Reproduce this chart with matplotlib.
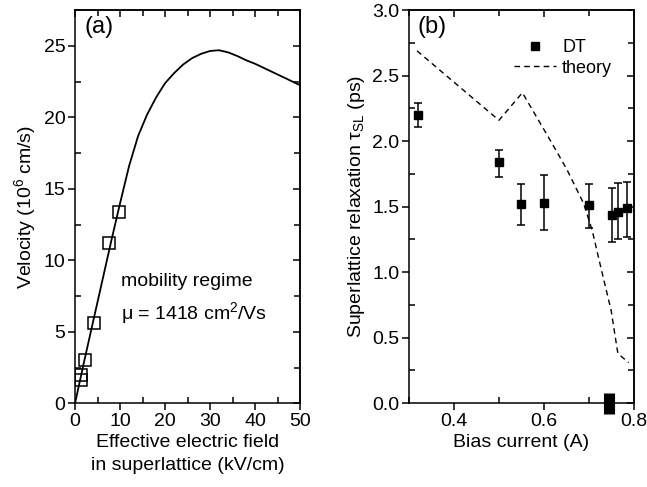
import matplotlib
matplotlib.use("Agg")
import matplotlib.pyplot as plt
from matplotlib.lines import Line2D
from matplotlib.ticker import MultipleLocator

plt.rcParams.update({"font.family": ["Liberation Sans", "DejaVu Sans"],
                     "mathtext.fontset": "custom", "mathtext.rm": "Liberation Sans",
                     "mathtext.it": "Liberation Sans:italic",
                     "axes.linewidth": 1.1})

# (a) velocity-field curve and measured points
field_curve = [0, 2, 4, 6, 8, 10, 12, 14, 16, 18, 20, 22, 24, 26, 28, 30, 32,
               34, 36, 38, 40, 42, 44, 46, 48, 50]
vel_curve = [0, 2.9, 5.7, 8.5, 11.3, 14.0, 16.6, 18.7, 20.2, 21.4, 22.4, 23.1,
             23.7, 24.15, 24.45, 24.65, 24.7, 24.55, 24.3, 24.0, 23.75, 23.45,
             23.15, 22.85, 22.55, 22.25]
field_pts = [1.3, 1.4, 2.1, 4.2, 7.6, 9.7]
vel_pts = [1.6, 2.0, 3.0, 5.6, 11.2, 13.4]

# (b) relaxation time vs bias current
bias_dt = [0.32, 0.50, 0.55, 0.60, 0.70, 0.75, 0.765, 0.785]
tau_dt = [2.20, 1.84, 1.52, 1.53, 1.51, 1.44, 1.46, 1.49]
tau_lo = [2.11, 1.73, 1.36, 1.32, 1.34, 1.23, 1.25, 1.27]
tau_hi = [2.29, 1.93, 1.67, 1.74, 1.67, 1.64, 1.68, 1.69]
bias_zero = [0.745]
tau_zero = [0.0]
bias_th = [0.318, 0.50, 0.552, 0.61, 0.65, 0.688, 0.707, 0.726, 0.749, 0.764, 0.788]
tau_th = [2.69, 2.16, 2.37, 2.03, 1.79, 1.525, 1.32, 1.04, 0.71, 0.38, 0.31]

FS = 14


def style(ax, xmaj, xmin, ymaj, ymin):
    ax.xaxis.set_major_locator(MultipleLocator(xmaj))
    ax.xaxis.set_minor_locator(MultipleLocator(xmin))
    ax.yaxis.set_major_locator(MultipleLocator(ymaj))
    ax.yaxis.set_minor_locator(MultipleLocator(ymin))
    ax.tick_params(which="major", direction="out", length=5, width=1.1,
                   labelsize=FS, pad=2)
    ax.tick_params(which="minor", direction="in", length=4, width=1.1)
    # top and right: all ticks point inward, no labels
    top = ax.secondary_xaxis("top")
    top.xaxis.set_major_locator(MultipleLocator(xmaj))
    top.xaxis.set_minor_locator(MultipleLocator(xmin))
    right = ax.secondary_yaxis("right")
    right.yaxis.set_major_locator(MultipleLocator(ymaj))
    right.yaxis.set_minor_locator(MultipleLocator(ymin))
    for sec in (top, right):
        sec.tick_params(which="major", direction="in", length=5, width=1.1,
                        labelleft=False, labelright=False, labeltop=False,
                        labelbottom=False)
        sec.tick_params(which="minor", direction="in", length=4, width=1.1)


fig = plt.figure(figsize=(6.47, 4.87), dpi=100)
ax1 = fig.add_axes([0.116, 0.172, 0.348, 0.807])
ax2 = fig.add_axes([0.632, 0.172, 0.348, 0.807])

ax1.plot(field_curve, vel_curve, color="black", lw=1.3)
ax1.plot(field_pts, vel_pts, ls="none", marker="s", ms=8, mfc="none",
         mec="black", mew=1.1)
ax1.set_xlim(0, 50)
ax1.set_ylim(0, 27.5)
style(ax1, 10, 5, 5, 2.5)
ax1.set_ylabel("Velocity (10$^6$ cm/s)", fontsize=FS, labelpad=4)
ax1.set_xlabel("Effective electric field\nin superlattice (kV/cm)", fontsize=FS,
               labelpad=3, linespacing=1.45)
ax1.text(0.04, 0.985, "(a)", transform=ax1.transAxes, fontsize=17, va="top")
ax1.text(10.3, 8.5, "mobility regime", fontsize=FS, va="center")
ax1.text(10.3, 6.3, "μ = 1418 cm$^2$/Vs", fontsize=FS, va="center")

err = [[t - lo for t, lo in zip(tau_dt, tau_lo)],
       [hi - t for t, hi in zip(tau_dt, tau_hi)]]
ax2.errorbar(bias_dt, tau_dt, yerr=err, ls="none", marker="s", ms=6,
             color="black", capsize=3, elinewidth=1.1, capthick=1.1)
zero = ax2.errorbar(bias_zero, tau_zero, yerr=[[0.08], [0.08]], ls="none",
                    marker="none", color="black", elinewidth=8, capsize=0,
                    zorder=5)
for art in zero.lines:
    if art is None:
        continue
    for a in (art if isinstance(art, tuple) else [art]):
        a.set_clip_on(False)
        a.set_zorder(5)
ax2.plot(bias_th, tau_th, color="black", ls=(0, (4, 3)), lw=1.0)
ax2.set_xlim(0.3, 0.8)
ax2.set_ylim(0, 3.0)
style(ax2, 0.2, 0.1, 0.5, 0.25)
ax2.yaxis.set_major_formatter(plt.FormatStrFormatter("%.1f"))
ax2.xaxis.set_major_formatter(plt.FormatStrFormatter("%.1f"))
ax2.set_ylabel("Superlattice relaxation τ$_{\\rm SL}$ (ps)", fontsize=FS,
               labelpad=4)
ax2.set_xlabel("Bias current (A)", fontsize=FS, labelpad=3)
ax2.text(0.04, 0.985, "(b)", transform=ax2.transAxes, fontsize=17, va="top")
handles = [Line2D([], [], ls="none", marker="s", ms=6, color="black"),
           Line2D([], [], color="black", ls=(0, (4, 3)), lw=1.0)]
ax2.legend(handles, ["DT", "theory"], loc="upper left", frameon=False,
           fontsize=13, handlelength=2.3, handletextpad=0.35, borderpad=0,
           labelspacing=0.2, bbox_to_anchor=(0.428, 0.95))

fig.savefig("out.png", dpi=100)
